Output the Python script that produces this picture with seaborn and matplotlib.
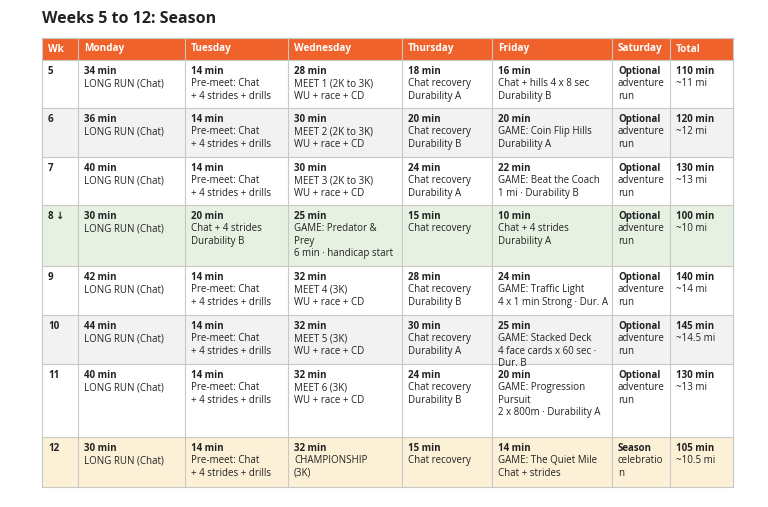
import matplotlib
matplotlib.use("Agg")
import matplotlib.pyplot as plt
import seaborn as sns

sns.set_theme(style="white")
plt.rcParams['font.family'] = ['Open Sans', 'DejaVu Sans']

title = "Weeks 5 to 12: Season"
headers = ["Wk", "Monday", "Tuesday", "Wednesday", "Thursday", "Friday", "Saturday", "Total"]
weeks = ["5", "6", "7", "8 ↓", "9", "10", "11", "12"]
monday = ["34 min\nLONG RUN (Chat)", "36 min\nLONG RUN (Chat)", "40 min\nLONG RUN (Chat)",
          "30 min\nLONG RUN (Chat)", "42 min\nLONG RUN (Chat)", "44 min\nLONG RUN (Chat)",
          "40 min\nLONG RUN (Chat)", "30 min\nLONG RUN (Chat)"]
tuesday = ["14 min\nPre-meet: Chat\n+ 4 strides + drills"] * 3 + ["20 min\nChat + 4 strides\nDurability B"] + \
          ["14 min\nPre-meet: Chat\n+ 4 strides + drills"] * 4
wednesday = ["28 min\nMEET 1 (2K to 3K)\nWU + race + CD", "30 min\nMEET 2 (2K to 3K)\nWU + race + CD",
             "30 min\nMEET 3 (2K to 3K)\nWU + race + CD", "25 min\nGAME: Predator &\nPrey\n6 min · handicap start",
             "32 min\nMEET 4 (3K)\nWU + race + CD", "32 min\nMEET 5 (3K)\nWU + race + CD",
             "32 min\nMEET 6 (3K)\nWU + race + CD", "32 min\nCHAMPIONSHIP\n(3K)"]
thursday = ["18 min\nChat recovery\nDurability A", "20 min\nChat recovery\nDurability B",
            "24 min\nChat recovery\nDurability A", "15 min\nChat recovery",
            "28 min\nChat recovery\nDurability B", "30 min\nChat recovery\nDurability A",
            "24 min\nChat recovery\nDurability B", "15 min\nChat recovery"]
friday = ["16 min\nChat + hills 4 x 8 sec\nDurability B", "20 min\nGAME: Coin Flip Hills\nDurability A",
          "22 min\nGAME: Beat the Coach\n1 mi · Durability B", "10 min\nChat + 4 strides\nDurability A",
          "24 min\nGAME: Traffic Light\n4 x 1 min Strong · Dur. A",
          "25 min\nGAME: Stacked Deck\n4 face cards x 60 sec ·\nDur. B",
          "20 min\nGAME: Progression\nPursuit\n2 x 800m · Durability A",
          "14 min\nGAME: The Quiet Mile\nChat + strides"]
saturday = ["Optional\nadventure\nrun"] * 7 + ["Season\ncelebratio\nn"]
total = ["110 min\n~11 mi", "120 min\n~12 mi", "130 min\n~13 mi", "100 min\n~10 mi",
         "140 min\n~14 mi", "145 min\n~14.5 mi", "130 min\n~13 mi", "105 min\n~10.5 mi"]

col_edges = [42, 78, 185, 288, 402, 492, 612, 670, 733]
row_edges = [38, 60, 108, 157, 205, 266, 315, 364, 437, 487]
row_colors = ["#ffffff", "#f2f2f2", "#ffffff", "#e7f1e1", "#ffffff", "#f2f2f2", "#ffffff", "#fcf0d7"]
header_color = "#f0622b"
grid = "#c8c8c8"

fig = plt.figure(figsize=(7.68, 5.07), dpi=100)
ax = fig.add_axes([0, 0, 1, 1])
ax.set_xlim(0, 768)
ax.set_ylim(507, 0)
ax.axis("off")

ax.barh([(row_edges[0] + row_edges[1]) / 2], [col_edges[-1] - col_edges[0]], left=col_edges[0],
        height=row_edges[1] - row_edges[0], color=header_color, edgecolor="none")
for i, c in enumerate(row_colors):
    y0, y1 = row_edges[i + 1], row_edges[i + 2]
    ax.barh([(y0 + y1) / 2], [col_edges[-1] - col_edges[0]], left=col_edges[0], height=y1 - y0,
            color=c, edgecolor="none")
for x in col_edges:
    ax.plot([x, x], [row_edges[0], row_edges[-1]], color=grid, lw=0.8)
for y in row_edges:
    ax.plot([col_edges[0], col_edges[-1]], [y, y], color=grid, lw=0.8)

ax.text(42, 19, title, fontsize=11.5, fontweight="bold", va="center", ha="left", color="#222222")
for j, h in enumerate(headers):
    ax.text(col_edges[j] + 6, (row_edges[0] + row_edges[1]) / 2, h, fontsize=7.2, fontweight="bold",
            color="white", va="center", ha="left")

cols = [weeks, monday, tuesday, wednesday, thursday, friday, saturday, total]
lh = 12.4
for j, col in enumerate(cols):
    for i, txt in enumerate(col):
        lines = txt.split("\n")
        y = row_edges[i + 1] + 11.5
        for k, ln in enumerate(lines):
            ax.text(col_edges[j] + 6, y + k * lh, ln, fontsize=7,
                    fontweight="bold" if k == 0 else "normal",
                    color="#222222", va="center", ha="left")

fig.savefig("out.png", dpi=100)
